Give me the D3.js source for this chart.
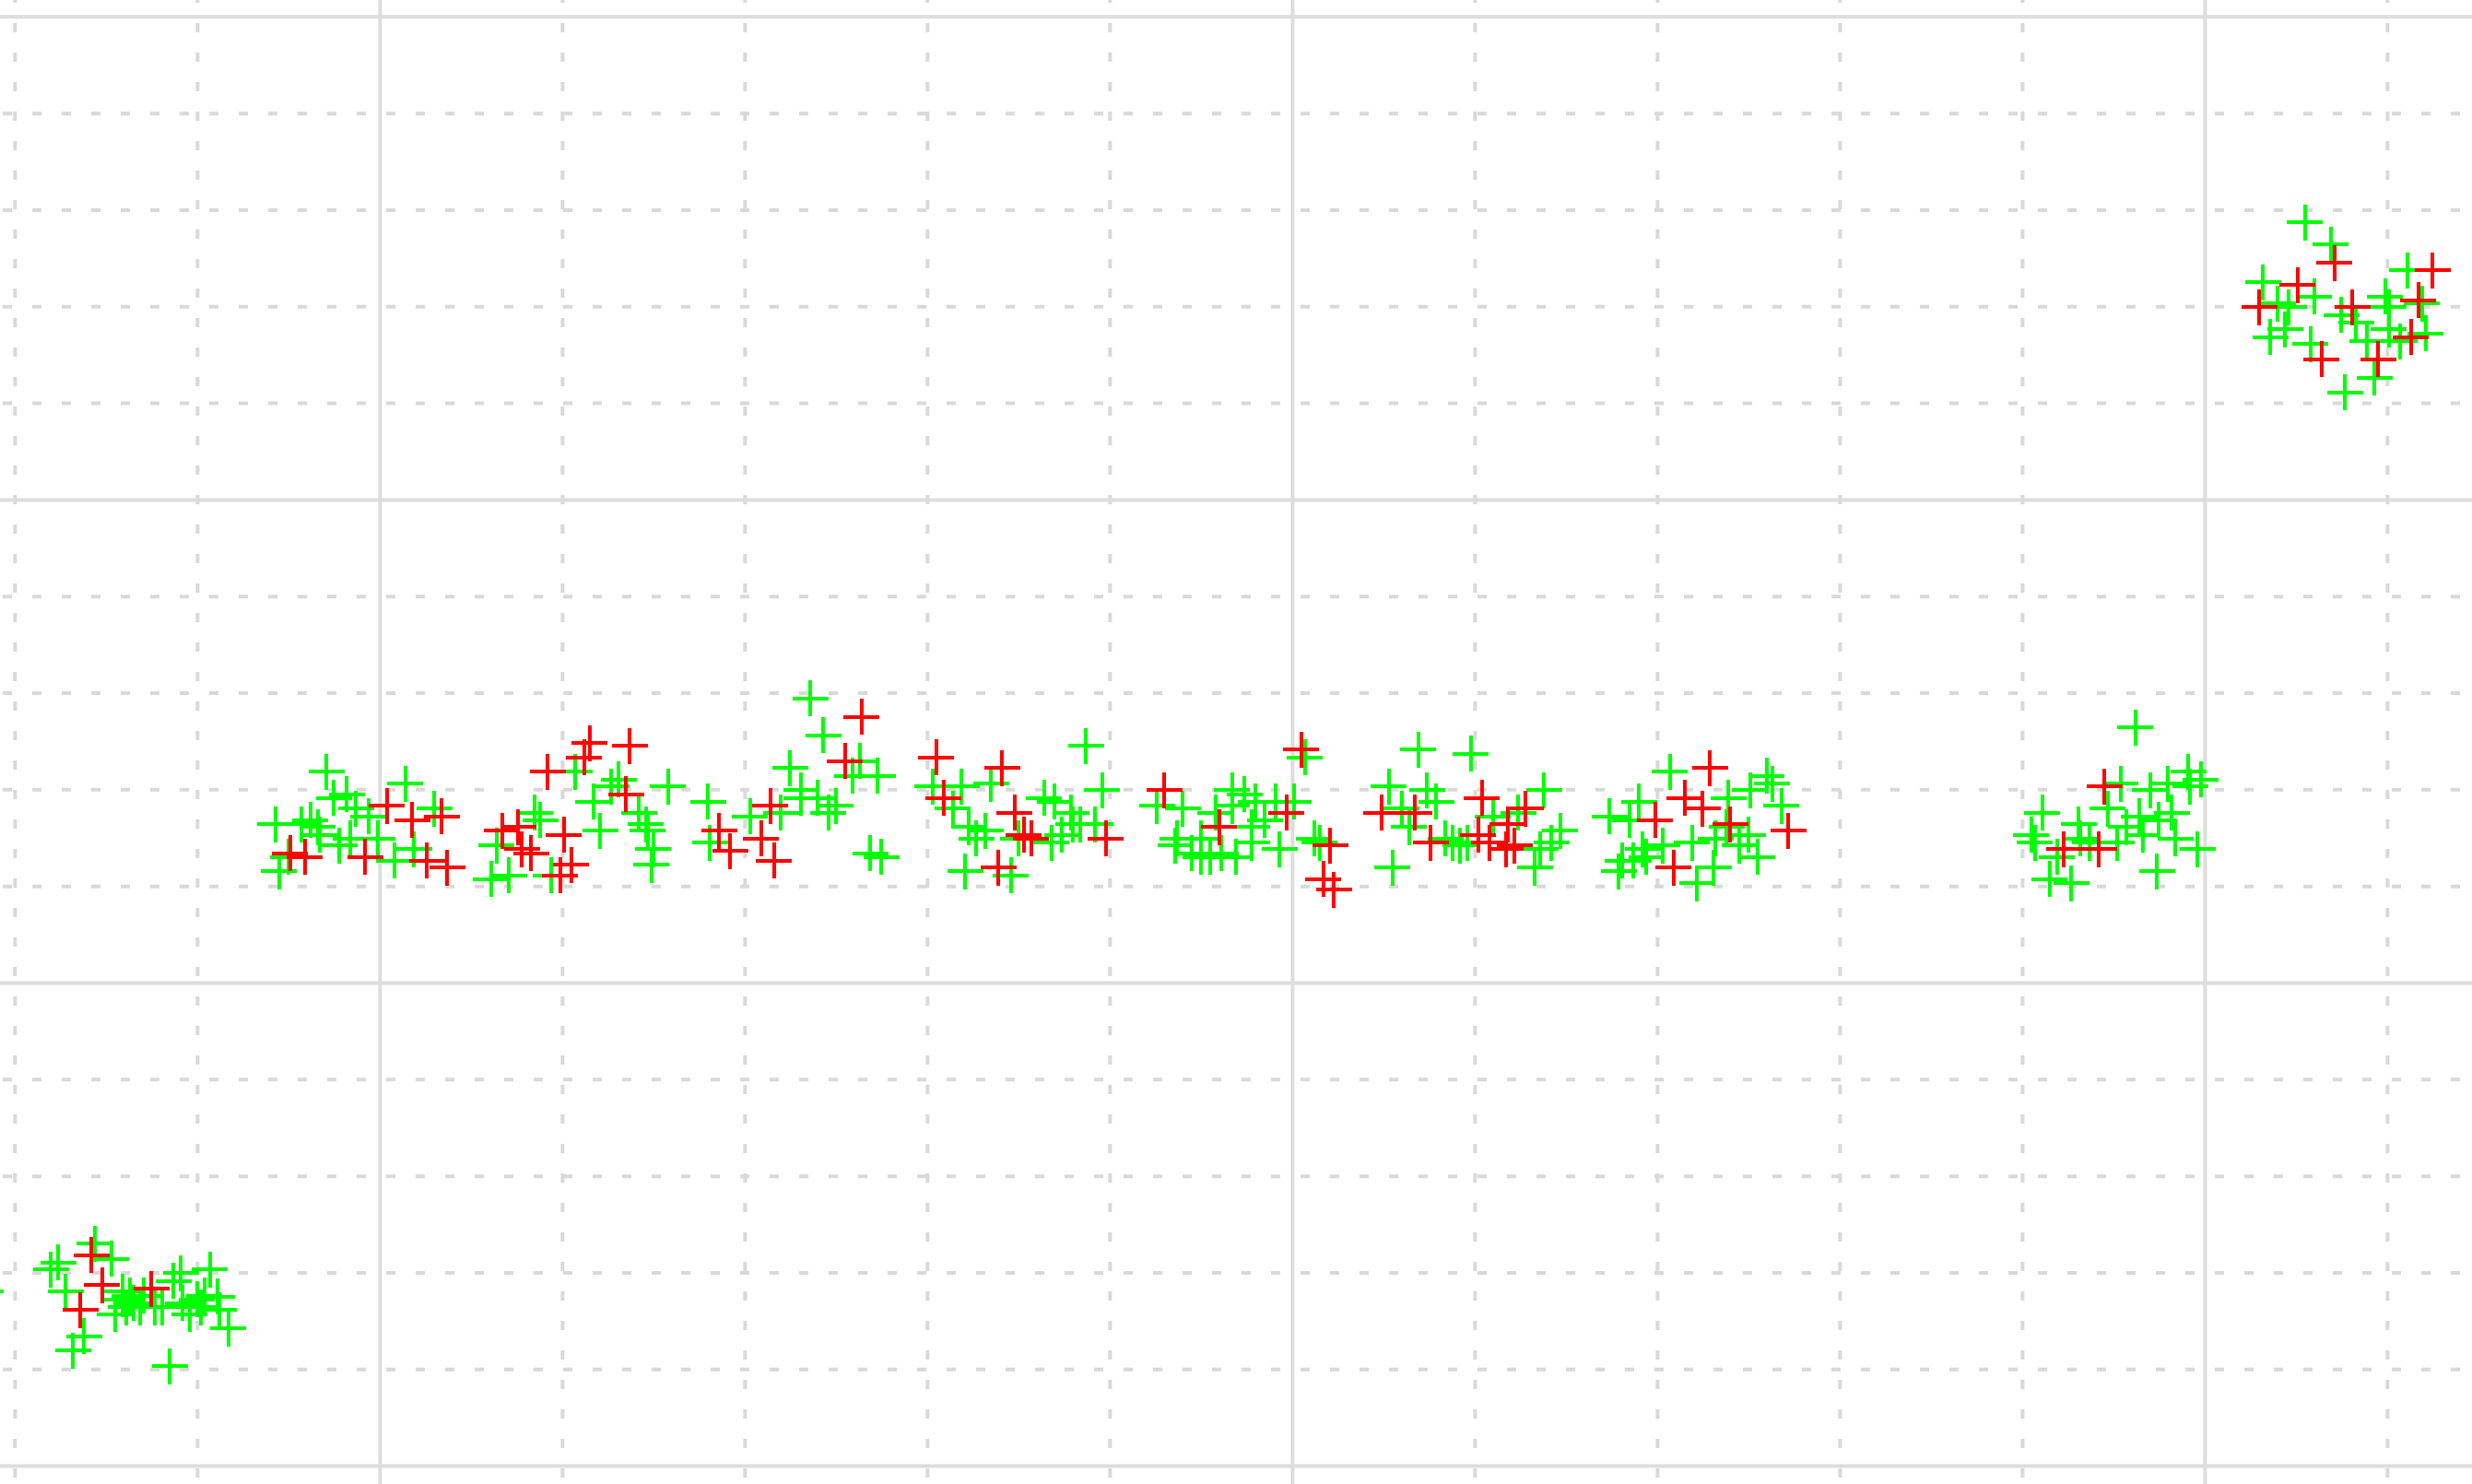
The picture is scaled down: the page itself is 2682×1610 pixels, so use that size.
<!DOCTYPE html>
<html>
<head>
<meta charset="utf-8">
<script src="https://cdn.jsdelivr.net/npm/d3@7"></script>
<style>
    html, body { margin: 0; padding: 0; background: #ffffff; overflow: hidden; }
    svg { display: block; }
</style>
</head>
<body>
<div id="main"></div>
<script>
// point clusters: [x, y] in grid units
var greenLow = [
    [-1.56, 2.30], [-1.47, 2.14], [-1.76, 2.10], [-1.80, 2.03], [-1.72, 1.80], [-2.16, 1.80],
    [-1.09, 1.99], [-1.13, 1.91], [-0.93, 2.03], [-1.62, 1.34], [-1.68, 1.19], [-1.15, 1.03],
    [-0.83, 1.42], [-0.88, 1.61], [-1.41, 1.72], [-1.45, 1.57], [-1.39, 1.64], [-1.35, 1.68],
    [-1.31, 1.64], [-1.37, 1.76], [-1.29, 1.76], [-1.23, 1.64], [-1.19, 1.64], [-1.41, 1.80],
    [-1.08, 1.68], [-1.04, 1.57], [-1.00, 1.72], [-0.98, 1.64], [-0.96, 1.76], [-0.89, 1.75]
];
var redLow = [
    [-1.58, 2.18], [-1.52, 1.87], [-1.64, 1.61], [-1.25, 1.83]
];

var greenMid = [
    [-0.29, 7.18], [-0.25, 6.91], [-0.18, 6.95], [-0.13, 6.80], [0.14, 7.06], [-0.06, 6.72],
    [0.30, 6.80], [-0.57, 6.64], [-0.38, 6.68], [-0.34, 6.61], [-0.43, 6.64], [-0.22, 6.42],
    [-0.16, 6.49], [-0.01, 6.49], [-0.55, 6.15], [-0.50, 6.30], [0.08, 6.26], [0.19, 6.38],
    [-0.33, 6.53], [0.61, 6.07], [0.64, 6.42], [0.85, 6.76], [0.88, 6.68], [0.71, 6.11],
    [0.94, 6.11], [1.07, 7.18], [1.17, 6.87], [1.21, 6.57], [1.27, 7.03], [1.31, 7.10],
    [1.58, 7.03], [1.42, 6.76], [1.46, 6.64], [1.47, 6.57], [1.50, 6.38], [1.49, 6.22],
    [1.80, 6.87], [1.81, 6.45],
    [2.36, 7.94], [2.43, 7.56], [2.63, 7.29], [2.73, 7.14], [2.59, 7.14], [2.25, 7.22],
    [2.31, 6.99], [2.31, 6.91], [2.40, 6.91], [2.50, 6.83], [2.46, 6.76], [2.20, 6.76],
    [2.03, 6.72], [2.69, 6.34], [2.75, 6.30], [3.03, 7.03], [3.19, 7.03], [3.14, 6.80],
    [3.35, 7.06], [3.23, 6.61], [3.27, 6.49], [3.32, 6.57], [3.21, 6.15], [3.46, 6.11],
    [3.50, 6.49], [3.64, 6.91], [3.70, 6.87], [3.79, 6.76], [3.80, 6.64], [3.84, 6.64],
    [3.68, 6.45], [3.74, 6.53], [3.87, 7.45], [3.96, 6.99], [3.92, 6.64], [4.26, 6.83],
    [4.40, 6.80], [4.37, 6.49], [4.36, 6.42], [4.45, 6.34], [4.50, 6.30], [4.55, 6.30],
    [4.61, 6.34], [4.58, 6.76], [4.67, 6.99], [4.67, 6.83], [4.50, 6.49],
    [5.07, 7.33], [4.74, 6.95], [4.80, 6.87], [4.91, 6.87], [5.01, 6.87], [4.85, 6.68],
    [4.78, 6.61], [4.69, 6.30], [4.78, 6.45], [4.93, 6.38], [5.12, 6.49], [5.15, 6.45],
    [5.69, 7.41], [5.98, 7.37], [5.53, 7.03], [5.74, 6.99], [5.79, 6.87], [5.60, 6.80],
    [5.64, 6.61], [5.55, 6.19], [5.84, 6.49], [5.88, 6.45], [5.92, 6.42], [5.96, 6.45],
    [6.10, 6.72], [6.24, 6.76], [6.38, 6.99], [6.47, 6.57], [6.42, 6.45], [6.36, 6.38],
    [6.33, 6.19], [6.74, 6.72], [6.90, 6.87], [6.85, 6.68], [7.07, 7.18], [6.81, 6.26],
    [6.79, 6.15], [6.87, 6.26], [6.94, 6.30], [6.92, 6.38], [7.03, 6.42], [7.19, 6.45],
    [7.22, 6.03], [7.31, 6.19], [7.32, 6.49], [7.39, 6.91],
    [7.60, 7.14], [7.63, 7.06], [7.51, 6.99], [7.68, 6.83], [7.50, 6.53], [7.45, 6.42],
    [7.55, 6.30], [7.38, 6.61],
    [9.62, 7.64], [9.54, 7.06], [9.70, 6.99], [9.91, 7.18], [9.98, 7.10], [9.92, 7.03],
    [9.80, 7.06], [9.11, 6.76], [9.31, 6.64], [9.47, 6.80], [9.64, 6.72], [9.82, 6.76],
    [9.75, 6.68], [9.05, 6.53], [9.07, 6.45], [9.57, 6.61], [9.66, 6.53], [9.84, 6.49],
    [9.96, 6.38], [9.32, 6.49], [9.37, 6.45], [9.52, 6.45], [9.15, 6.07], [9.27, 6.03],
    [9.74, 6.15], [9.19, 6.30]
];
var redMid = [
    [0.04, 6.83], [0.18, 6.68], [0.34, 6.72], [-0.49, 6.34], [-0.41, 6.30], [-0.08, 6.30],
    [0.26, 6.26], [0.37, 6.19], [0.67, 6.57], [0.76, 6.61], [0.78, 6.38], [0.83, 6.34],
    [1.01, 6.53], [1.05, 6.22], [0.99, 6.11], [0.92, 7.18], [1.12, 7.33], [1.15, 7.48],
    [1.37, 7.45], [1.35, 6.95], [1.86, 6.57], [1.92, 6.36],
    [2.64, 7.75], [2.55, 7.29], [2.14, 6.83], [2.09, 6.49], [2.16, 6.26], [3.05, 7.33],
    [3.09, 6.91], [3.41, 7.22], [3.39, 6.19], [3.48, 6.76], [3.53, 6.53], [3.57, 6.49],
    [3.98, 6.49], [4.30, 6.99], [4.60, 6.61],
    [5.05, 7.41], [4.97, 6.76], [5.21, 6.42], [5.17, 6.07], [5.23, 5.96], [5.49, 6.76],
    [5.67, 6.76], [5.76, 6.45], [6.04, 6.91], [6.02, 6.53], [6.08, 6.45], [6.18, 6.64],
    [6.28, 6.80], [6.17, 6.38], [6.22, 6.42], [6.99, 6.68], [7.29, 7.22], [7.15, 6.91],
    [7.25, 6.80], [7.09, 6.19], [7.40, 6.64], [7.72, 6.57],
    [9.45, 7.03], [9.23, 6.38], [9.42, 6.38]
];

var greenHigh = [
    [10.55, 12.87], [10.69, 12.64], [11.11, 12.37], [10.32, 12.25], [10.60, 12.10], [10.99, 12.10],
    [10.40, 12.03], [10.46, 11.99], [11.01, 11.99], [11.19, 12.03], [10.75, 11.91], [10.44, 11.76],
    [10.36, 11.68], [10.83, 11.83], [11.01, 11.76], [11.21, 11.72], [10.89, 11.64], [11.07, 11.64],
    [10.58, 11.61], [10.93, 11.26], [10.77, 11.11]
];
var redHigh = [
    [10.71, 12.45], [11.25, 12.37], [10.51, 12.22], [11.17, 12.06], [10.30, 11.99], [10.81, 11.99],
    [11.13, 11.68], [10.64, 11.45], [10.95, 11.45]
];

var xMajorTicks = [0, 5, 10];
var xMinorTicks = [-2, -1, 1, 2, 3, 4, 6, 7, 8, 9, 11];
var yMajorTicks = [0, 5, 10, 15];
var yMinorTicks = [1, 2, 3, 4, 6, 7, 8, 9, 11, 12, 13, 14];

var width = 2682;
var height = 1610;

var x = d3.scaleLinear().domain([-2.08, 11.465]).range([0, width]);
var y = d3.scaleLinear().domain([-0.19, 15.17]).range([height, 0]);

var svg = d3.select("#main")
    .append("svg")
    .attr("width", width)
    .attr("height", height);

function grid(g, axis, dash, offset, colour, thick) {
    g.call(axis);
    g.select(".domain").remove();
    g.selectAll(".tick line")
        .attr("stroke", colour)
        .attr("stroke-width", thick)
        .attr("stroke-dasharray", dash)
        .attr("stroke-dashoffset", offset);
}

// dashed minor grid
svg.append("g").call(grid,
    d3.axisBottom(x).tickValues(xMinorTicks).tickSize(height).tickFormat(""),
    "10,22", 7, "#d9d9d9", 4);
svg.append("g").call(grid,
    d3.axisRight(y).tickValues(yMinorTicks).tickSize(width).tickFormat(""),
    "10,22", 29, "#d9d9d9", 4);

// solid major grid
svg.append("g").call(grid,
    d3.axisBottom(x).tickValues(xMajorTicks).tickSize(height).tickFormat(""),
    null, 0, "#dddddd", 4);
svg.append("g").call(grid,
    d3.axisRight(y).tickValues(yMajorTicks).tickSize(width).tickFormat(""),
    null, 0, "#dddddd", 4);

var plus = {
    draw: function(context, size) {
        var r = Math.sqrt(size) / 2;
        context.moveTo(-r, 0);
        context.lineTo(r, 0);
        context.moveTo(0, -r);
        context.lineTo(0, r);
    }
};
var marker = d3.symbol().type(plus).size(39 * 39);

function draw_points(points, colour) {
    svg.append("g")
        .selectAll("path")
        .data(points)
        .enter()
        .append("path")
        .attr("d", marker)
        .attr("transform", function(d) { return "translate(" + x(d[0]) + "," + y(d[1]) + ")"; })
        .attr("fill", "none")
        .attr("stroke", colour)
        .attr("stroke-width", 4)
        .attr("shape-rendering", "crispEdges");
}

draw_points(greenLow, "#00ff00");
draw_points(redLow, "#ff0000");
draw_points(greenMid, "#00ff00");
draw_points(redMid, "#ff0000");
draw_points(greenHigh, "#00ff00");
draw_points(redHigh, "#ff0000");
</script>
</body>
</html>
